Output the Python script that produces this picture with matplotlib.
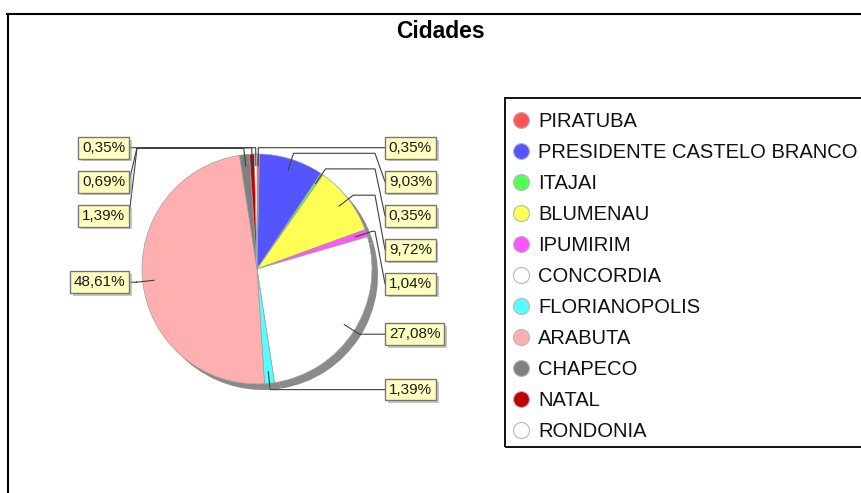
import numpy as np
import matplotlib
matplotlib.use('Agg')
import matplotlib.pyplot as plt
from matplotlib import patheffects as pe
from matplotlib.patches import Rectangle

plt.rcParams['font.family'] = ['Liberation Sans', 'DejaVu Sans']

# ---------------- data ----------------
title = "Cidades"
cities = ["PIRATUBA", "PRESIDENTE CASTELO BRANCO", "ITAJAI", "BLUMENAU",
          "IPUMIRIM", "CONCORDIA", "FLORIANOPOLIS", "ARABUTA", "CHAPECO",
          "NATAL", "RONDONIA"]
percent = [0.35, 9.03, 0.35, 9.72, 1.04, 27.08, 1.39, 48.61, 1.39, 0.69, 0.35]
colors = ["#FF5555", "#5555FF", "#55FF55", "#FFFF55", "#FF55FF", "#FFFFFF",
          "#55FFFF", "#FFAFAF", "#808080", "#C00000", "#FFFFFF"]

# ---------------- layout ----------------
W, H = 862, 493
fig = plt.figure(figsize=(W / 100, H / 100), dpi=100)
ax = fig.add_axes([0, 0, 1, 1])


def Y(y):
    return H - y


cx, cy, R = 257, Y(269), 115
sh = 6

# shadow
ax.pie(percent, colors=['#8a8a8a'] * len(percent), startangle=90,
       counterclock=False, center=(cx + sh, cy - sh), radius=R,
       wedgeprops=dict(linewidth=0))
ax.pie(percent, colors=colors, startangle=90, counterclock=False,
       center=(cx, cy), radius=R,
       wedgeprops=dict(edgecolor='#a0a0a0', linewidth=0.5))
ax.set_xlim(0, W)
ax.set_ylim(0, H)
ax.set_aspect('equal')
ax.axis('off')

# ---------------- labels ----------------
frac = np.array(percent) / np.sum(percent)
mid = np.cumsum(frac) - frac / 2
theta = np.deg2rad(mid * 360)
ux, uy = np.sin(theta), np.cos(theta)
labels = [f"{p:.2f}%".replace('.', ',') for p in percent]

link_in, link_out = 0.9, 1.055
gap = 34
lfs = 11
pad = 0.25
pad_px = pad * lfs * 100 / 72

right_anchor, right_target = 375, 385
left_anchor, left_target = 137, 129


def place(idx):
    idx = sorted(idx, key=lambda i: -(cy + link_out * R * uy[i]))
    out = {}
    prev = None
    for i in idx:
        nat = cy + link_out * R * uy[i]
        y = nat if prev is None else min(nat, prev - gap)
        out[i] = y
        prev = y
    return out


right = [i for i in range(len(percent)) if mid[i] < 0.5]
left = [i for i in range(len(percent)) if mid[i] >= 0.5]
alloc = {}
alloc.update(place(right))
alloc.update(place(left))

lc = '#404040'
for i in range(len(percent)):
    p1 = (cx + link_in * R * ux[i], cy + link_in * R * uy[i])
    p2 = (cx + link_out * R * ux[i], cy + link_out * R * uy[i])
    ty = alloc[i]
    if i in right:
        p3 = (right_anchor, p2[1])
        p4 = (right_target, ty)
        tx, ha = right_target + pad_px, 'left'
    else:
        p3 = (left_anchor, p2[1])
        p4 = (left_target, ty)
        tx, ha = left_target - pad_px, 'right'
    ax.plot([p1[0], p2[0], p3[0], p4[0]], [p1[1], p2[1], p3[1], p4[1]],
            color=lc, lw=0.8, solid_joinstyle='miter')
    t = ax.text(tx, ty, labels[i], ha=ha, va='center', fontsize=lfs,
                color='#1a1a1a',
                bbox=dict(boxstyle=f'square,pad={pad}', facecolor='#FFFFC0',
                          edgecolor='#777777', linewidth=1))
    t.get_bbox_patch().set_path_effects([
        pe.SimplePatchShadow(offset=(2, -2), shadow_rgbFace='#a0a0a0', alpha=0.6),
        pe.Normal()])

# ---------------- title ----------------
ax.text(440.5, Y(37.5), title, ha='center', va='baseline', fontsize=16.5,
        fontweight='bold', color='black')

# ---------------- border ----------------
ax.plot([7, W + 5], [Y(14.3), Y(14.3)], color='black', lw=1.5, clip_on=False)
ax.plot([8, 8], [Y(14.3), -5], color='black', lw=1.5, clip_on=False)

# ---------------- legend ----------------
lb_left, lb_top, lb_bot = 505, 98, 447
ax.add_patch(Rectangle((lb_left, Y(lb_bot)), 420, lb_bot - lb_top, fill=False,
                       edgecolor='#111111', lw=1.4, clip_on=False))
row0, step = 119.5, 31.0
lgfs = 14.5
cap = 0.716 * lgfs * 100 / 72
for k, (name, col) in enumerate(zip(cities, colors)):
    yc = row0 + step * k
    ax.plot([521], [Y(yc)], marker='o', markersize=11.5, markerfacecolor=col,
            markeredgecolor='#b8b8b8', markeredgewidth=0.8, linestyle='none')
    ax.text(538, Y(yc + cap / 2), name, ha='left', va='baseline',
            fontsize=lgfs, color='#111111')

fig.savefig('out.png', dpi=100)
